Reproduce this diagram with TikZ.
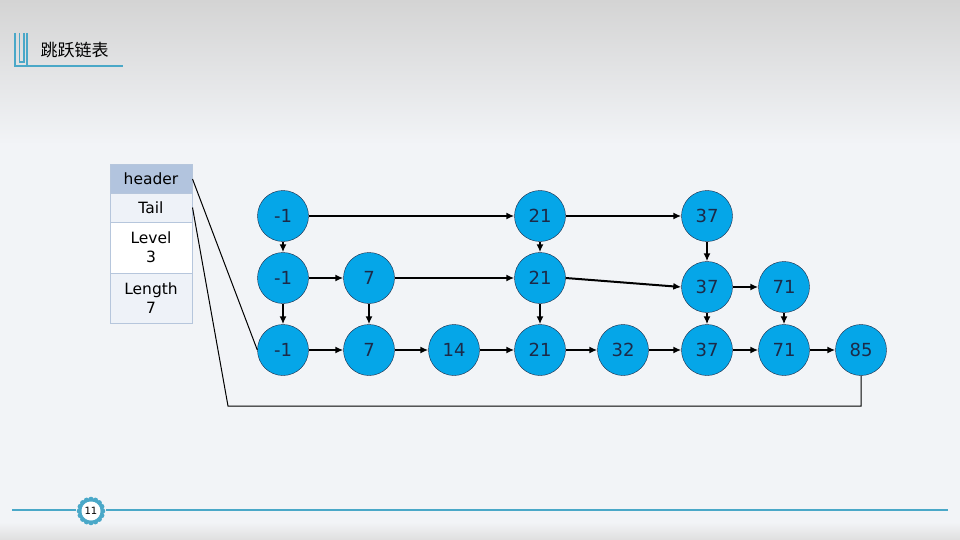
\documentclass[tikz,border=0pt]{standalone}
\usepackage{fontspec}
\setmainfont{DejaVu Sans}
\newfontfamily\cjk{Noto Sans CJK SC}
\usetikzlibrary{arrows.meta}
\definecolor{bgc}{HTML}{F2F4F7}
\definecolor{topgray}{HTML}{D4D4D4}
\definecolor{nodeblue}{HTML}{05A6E8}
\definecolor{navy}{HTML}{1C2A48}
\definecolor{lineteal}{HTML}{4AA8C8}
\definecolor{hdrfill}{HTML}{B2C4DE}
\definecolor{cellfill}{HTML}{EEF2F8}
\definecolor{cellborder}{HTML}{B6C6DC}
\begin{document}
\begin{tikzpicture}[x=1pt, y=-1pt, >={Latex[length=8pt, width=7pt]},
    knot/.style={circle, draw=navy, fill=nodeblue, minimum size=51pt, inner sep=0pt,
                 font=\fontsize{18}{18}\selectfont, text=navy},
    link/.style={->, line width=2pt},
    cell/.style={draw=cellborder, line width=1pt, minimum width=82pt, inner sep=0pt,
                 align=center, font=\fontsize{15.5}{19}\selectfont}]

    % 1. Nền
    \useasboundingbox (0,0) rectangle (960,540);
    \fill[bgc] (0,0) rectangle (960,540);
    \shade[top color=topgray, bottom color=bgc] (0,0) rectangle (960,145);
    \shade[top color=bgc, bottom color=gray!25] (0,522) rectangle (960,540);

    % 2. Tiêu đề
    \draw[lineteal, line width=2.5pt] (15,33) -- (15,66) -- (123,66);
    \draw[lineteal, line width=1.2pt] (19.5,33) -- (19.5,62) -- (24,62) -- (24,33);
    \draw[lineteal, line width=2pt] (26.5,33) -- (26.5,66);
    \node[font=\fontsize{17}{17}\selectfont\cjk, anchor=west] (title) at (37,50) {跳跃链表};

    % 3. Bảng header
    \node[cell, fill=hdrfill, minimum height=28pt] (hdr) at (151,179) {header};
    \node[cell, fill=cellfill, minimum height=29pt] (tail) at (151,207.5) {Tail};
    \node[cell, fill=white, minimum height=51pt] (level) at (151,247.5) {Level\\3};
    \node[cell, fill=cellfill, minimum height=50pt] (length) at (151,298) {Length\\7};

    % 4. Các nút, tầng trên cùng
    \node[knot] (ah) at (283,216) {-1};
    \node[knot] (a21) at (540,216) {21};
    \node[knot] (a37) at (707,216) {37};

    % tầng giữa
    \node[knot] (bh) at (283,278) {-1};
    \node[knot] (b7) at (369,278) {7};
    \node[knot] (b21) at (540,278) {21};
    \node[knot] (b37) at (707,287) {37};
    \node[knot] (b71) at (784,287) {71};

    % tầng dưới cùng
    \node[knot] (ch) at (283,350) {-1};
    \node[knot] (c7) at (369,350) {7};
    \node[knot] (c14) at (454,350) {14};
    \node[knot] (c21) at (540,350) {21};
    \node[knot] (c32) at (623,350) {32};
    \node[knot] (c37) at (707,350) {37};
    \node[knot] (c71) at (784,350) {71};
    \node[knot] (c85) at (861,350) {85};

    % 5. Con trỏ ngang
    \draw[link] (ah) -- (a21);
    \draw[link] (a21) -- (a37);
    \draw[link] (bh) -- (b7);
    \draw[link] (b7.east) -- (b21.west);
    \draw[link] (b21.east) -- (b37.west);
    \draw[link] (b37) -- (b71);
    \draw[link] (ch) -- (c7);
    \draw[link] (c7) -- (c14);
    \draw[link] (c14) -- (c21);
    \draw[link] (c21) -- (c32);
    \draw[link] (c32) -- (c37);
    \draw[link] (c37) -- (c71);
    \draw[link] (c71) -- (c85);

    % 6. Con trỏ dọc
    \draw[link] (ah) -- (bh);
    \draw[link] (bh) -- (ch);
    \draw[link] (b7) -- (c7);
    \draw[link] (a21) -- (b21);
    \draw[link] (b21) -- (c21);
    \draw[link] (a37) -- (b37);
    \draw[link] (b37) -- (c37);
    \draw[link] (b71) -- (c71);

    % 7. header và Tail
    \draw[line width=1pt] (hdr.east) -- (ch.west);
    \coordinate (bend) at (228,406);
    \draw[line width=1pt] (tail.east) -- (bend) -| (c85.south);

    % 8. Chân trang
    \draw[lineteal, line width=1.5pt] (12,510) -- (76,510);
    \draw[lineteal, line width=1.5pt] (106,510) -- (948,510);
    \foreach \a in {0,22.5,...,337.5}
        \fill[lineteal] (91,511) ++(\a:11.5) circle (2.8);
    \node[circle, fill=white, inner sep=0pt, minimum size=19pt,
          font=\fontsize{10}{10}\selectfont] (page) at (91,511) {11};

\end{tikzpicture}
\end{document}
